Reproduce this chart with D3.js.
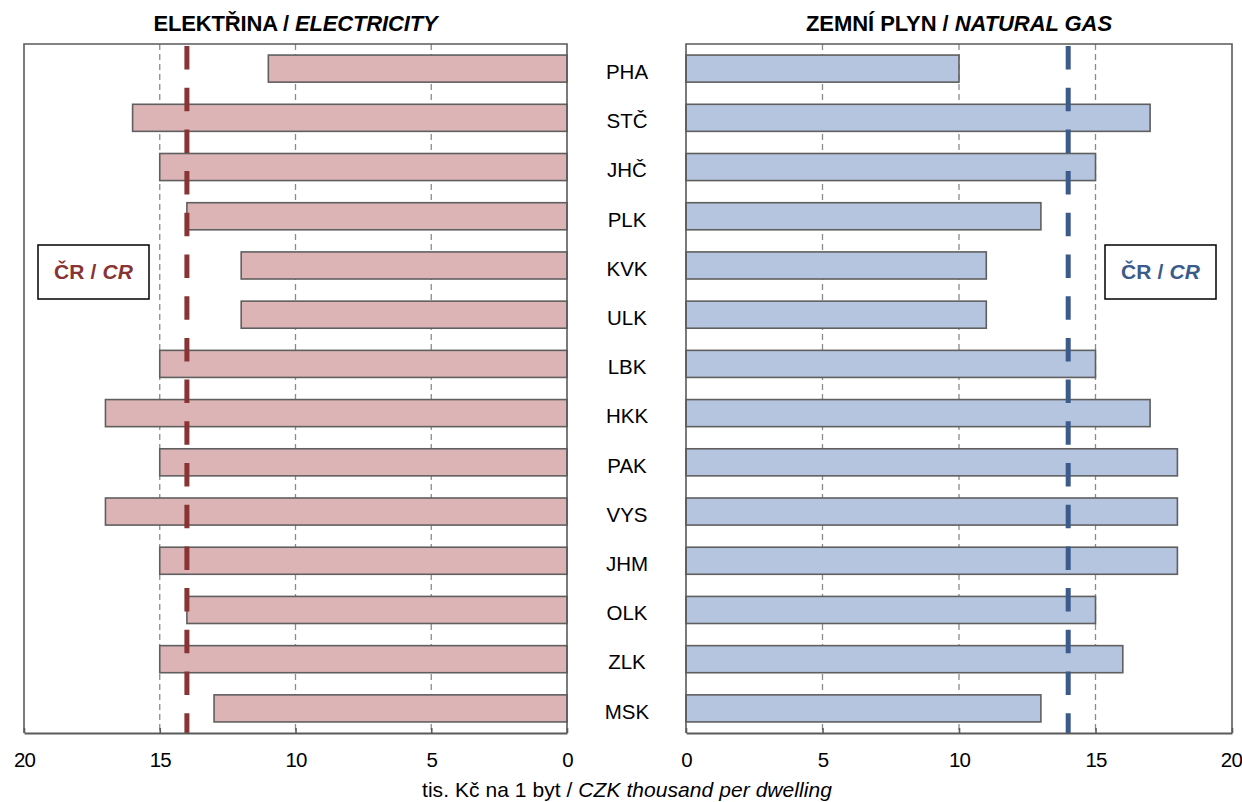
<!DOCTYPE html>
<html><head><meta charset="utf-8">
<script src="https://cdn.jsdelivr.net/npm/d3@7"></script>
<style>body{margin:0;background:#fff}svg{display:block;font-family:"Liberation Sans",Arial,sans-serif}</style>
</head><body>
<svg id="c" width="1242" height="802"></svg>
<script>
const regions = ["PHA","STČ","JHČ","PLK","KVK","ULK","LBK","HKK","PAK","VYS","JHM","OLK","ZLK","MSK"];
const electricity = [11,16,15,14,12,12,15,17,15,17,15,14,15,13];
const naturalGas = [10,17,15,13,11,11,15,17,18,18,18,15,16,13];
const crElectricity = 14;
const crGas = 14;
const xTicks = [0,5,10,15,20];

const svg = d3.select("#c");
const plotTop = 44, plotBottom = 733;
const y = d3.scaleBand().domain(regions).range([plotTop, plotBottom]).paddingInner(0.45).paddingOuter(0.225);
const xL = d3.scaleLinear().domain([20,0]).range([24,567]);
const xR = d3.scaleLinear().domain([0,20]).range([686,1232]);
const frameCol = "#5a5a5a";

function fitWidth(sel, target) {
  const n = sel.text().length;
  const w = sel.node().getComputedTextLength();
  const cur = parseFloat(sel.attr("letter-spacing") || 0);
  sel.attr("letter-spacing", cur + (target - w) / n);
}

function panel(x, vals, fill, cr, crCol, title1, title2, legendX, titleW) {
  const g = svg.append("g");
  const [x0, x1] = x.range();
  const lo = Math.min(x0,x1), hi = Math.max(x0,x1);
  g.selectAll("line.grid").data([5,10,15]).join("line")
    .attr("x1", d=>x(d)).attr("x2", d=>x(d)).attr("y1", plotTop).attr("y2", plotBottom)
    .attr("stroke", "#8a8a8a").attr("stroke-width", 1.3).attr("stroke-dasharray", "6,4");
  g.selectAll("rect.bar").data(regions).join("rect")
    .attr("x", (d,i)=>Math.min(x(0), x(vals[i])))
    .attr("width", (d,i)=>Math.abs(x(vals[i]) - x(0)))
    .attr("y", d=>y(d)).attr("height", y.bandwidth())
    .attr("fill", fill).attr("stroke", "#5f5f5f").attr("stroke-width", 1.6);
  g.append("line").attr("x1", x(cr)).attr("x2", x(cr)).attr("y1", plotTop+2).attr("y2", plotBottom)
    .attr("stroke", crCol).attr("stroke-width", 5).attr("stroke-dasharray", "23.5,18.2");
  g.append("path").attr("d", `M${lo},${plotBottom}V${plotTop}H${hi}V${plotBottom}`)
    .attr("fill", "none").attr("stroke", frameCol).attr("stroke-width", 1.6);
  const axis = d3.axisBottom(x).tickValues(xTicks).tickSize(-5).tickPadding(12).tickSizeOuter(0);
  const ag = g.append("g").attr("transform", `translate(0,${plotBottom})`).call(axis);
  ag.select(".domain").attr("stroke", frameCol).attr("stroke-width", 2);
  ag.selectAll(".tick line").attr("stroke", frameCol).attr("stroke-width", 1.6);
  ag.selectAll(".tick text").attr("font-size", 20.5).attr("fill", "#000")
    .attr("font-family", "Liberation Sans, Arial, sans-serif")
    .attr("y", 33.5).attr("dy", 0).attr("letter-spacing", -0.8)
    .attr("text-anchor", d => (x(d) > 1200 ? "end" : "middle"))
    .attr("x", d => (x(d) > 1200 ? 9.5 : 0));
  const t = svg.append("text").attr("x", (lo+hi)/2).attr("y", 31).attr("text-anchor", "middle")
    .attr("font-size", 22).attr("font-weight", "bold");
  t.append("tspan").text(title1);
  t.append("tspan").attr("font-style", "italic").text(title2);
  fitWidth(t, titleW);
  svg.append("rect").attr("x", legendX).attr("y", 245).attr("width", 111).attr("height", 54)
    .attr("fill", "#fff").attr("stroke", "#000").attr("stroke-width", 1.5);
  const lt = svg.append("text").attr("x", legendX + 55.5).attr("y", 279).attr("text-anchor", "middle")
    .attr("font-size", 21).attr("font-weight", "bold").attr("fill", crCol);
  lt.append("tspan").text("ČR / ");
  lt.append("tspan").attr("font-style", "italic").text("CR");
  fitWidth(lt, 79);
}

panel(xL, electricity, "#dcb4b6", crElectricity, "#893434", "ELEKTŘINA / ", "ELECTRICITY", 38, 284);
panel(xR, naturalGas, "#b5c5df", crGas, "#3b5b8b", "ZEMNÍ PLYN / ", "NATURAL GAS", 1105, 306);

svg.append("g").selectAll("text").data(regions).join("text")
  .attr("x", 627).attr("y", d=>y(d)+y.bandwidth()/2).attr("dy", "0.5em")
  .attr("text-anchor", "middle").attr("font-size", 20.5).text(d=>d);

const xt = svg.append("text").attr("x", 627).attr("y", 797).attr("text-anchor", "middle")
  .attr("font-size", 21);
xt.append("tspan").text("tis. Kč na 1 byt / ");
xt.append("tspan").attr("font-style", "italic").text("CZK thousand per dwelling");
fitWidth(xt, 410);
</script>
</body></html>
